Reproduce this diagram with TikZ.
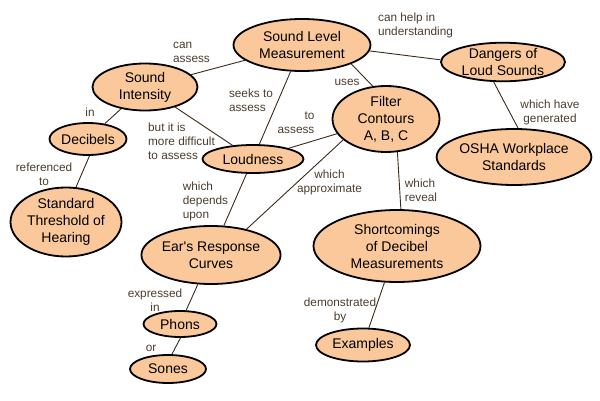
\documentclass[tikz,border=0pt]{standalone}
\usepackage{fontspec}
\setmainfont{Liberation Sans}
\usetikzlibrary{shapes.geometric}
\definecolor{peach}{HTML}{FAC89A}
\definecolor{linkbrown}{HTML}{3B2B1B}
\definecolor{wordbrown}{HTML}{4B3D2E}
\tikzset{
concept/.style={ellipse,draw=black,line width=1.8pt,fill=peach,inner sep=0pt,align=center,font=\fontsize{14}{17}\selectfont},
linkword/.style={text=wordbrown,align=center,inner sep=0pt,font=\fontsize{11.8}{14}\selectfont},
link/.style={draw=linkbrown,line width=0.9pt}
}
\begin{document}
\begin{tikzpicture}[x=1pt,y=-1pt]
\useasboundingbox (0,0) rectangle (600,401);
\node [concept,minimum width=137pt,minimum height=52pt] (slm) at (302,45) {Sound Level\\Measurement};
\node [concept,minimum width=124pt,minimum height=38pt] (dangers) at (503,62) {Dangers of\\Loud Sounds};
\node [concept,minimum width=105pt,minimum height=47pt] (intensity) at (145,87) {Sound\\Intensity};
\node [concept,minimum width=107pt,minimum height=66pt] (filter) at (386,119) {Filter\\Contours\\A, B, C};
\node [concept,minimum width=77pt,minimum height=32pt] (decibels) at (88,139) {Decibels};
\node [concept,minimum width=101pt,minimum height=28pt] (loudness) at (253,159) {Loudness};
\node [concept,minimum width=150pt,minimum height=56pt] (osha) at (514,157) {OSHA Workplace\\Standards};
\node [concept,minimum width=111pt,minimum height=69pt] (threshold) at (66,222) {Standard\\Threshold of\\Hearing};
\node [concept,minimum width=131pt,minimum height=58pt] (ears) at (211,255) {Ear\textquotesingle s Response\\Curves};
\node [concept,minimum width=167pt,minimum height=72pt] (shortcomings) at (397,246) {Shortcomings\\of Decibel\\Measurements};
\node [concept,minimum width=73pt,minimum height=26pt] (phons) at (180,324) {Phons};
\node [concept,minimum width=76pt,minimum height=28pt] (sones) at (168,369) {Sones};
\node [concept,minimum width=94pt,minimum height=33pt] (examples) at (363,345) {Examples};
\draw [link] (intensity) -- (slm);
\draw [link] (slm.355) -- (dangers.178);
\draw [link] (slm) -- (loudness);
\draw [link] (slm.339) -- (filter.112);
\draw [link] (intensity) -- (decibels);
\draw [link] (intensity) -- (loudness);
\draw [link] (decibels.275) -- (threshold.74);
\draw [link] (loudness) -- (filter);
\draw [link] (loudness) -- (ears);
\draw [link] (filter.206) -- (ears.36);
\draw [link] (filter.289) -- (shortcomings.84);
\draw [link] (dangers.245) -- (osha.82);
\draw [link] (ears) -- (phons);
\draw [link] (phons.272) -- (sones.75);
\draw [link] (shortcomings) -- (examples);
\node [linkword,align=left] (canassess) at (191.5,52) {can\\assess};
\node [linkword,align=left] (canhelp) at (415.5,25) {can help in\\understanding};
\node [linkword] (in) at (90,112) {in};
\node [linkword] (referenced) at (44,174) {referenced\\to};
\node [linkword,align=left] (seeks) at (251,100) {seeks to\\assess};
\node [linkword] (uses) at (347,82) {uses};
\node [linkword,align=right] (toassess) at (296,123) {to\\assess};
\node [linkword,align=left] (difficult) at (181.5,141) {but it is\\more difficult\\to assess};
\node [linkword,align=left] (depends) at (205.5,201) {which\\depends\\upon};
\node [linkword] (approximate) at (329.5,182) {which\\approximate};
\node [linkword,align=left] (reveal) at (421,190) {which\\reveal};
\node [linkword] (generated) at (550,112) {which have\\generated};
\node [linkword] (expressed) at (155,300) {expressed\\in};
\node [linkword] (or) at (151,348) {or};
\node [linkword] (demonstrated) at (340,310) {demonstrated\\by};
\end{tikzpicture}
\end{document}
